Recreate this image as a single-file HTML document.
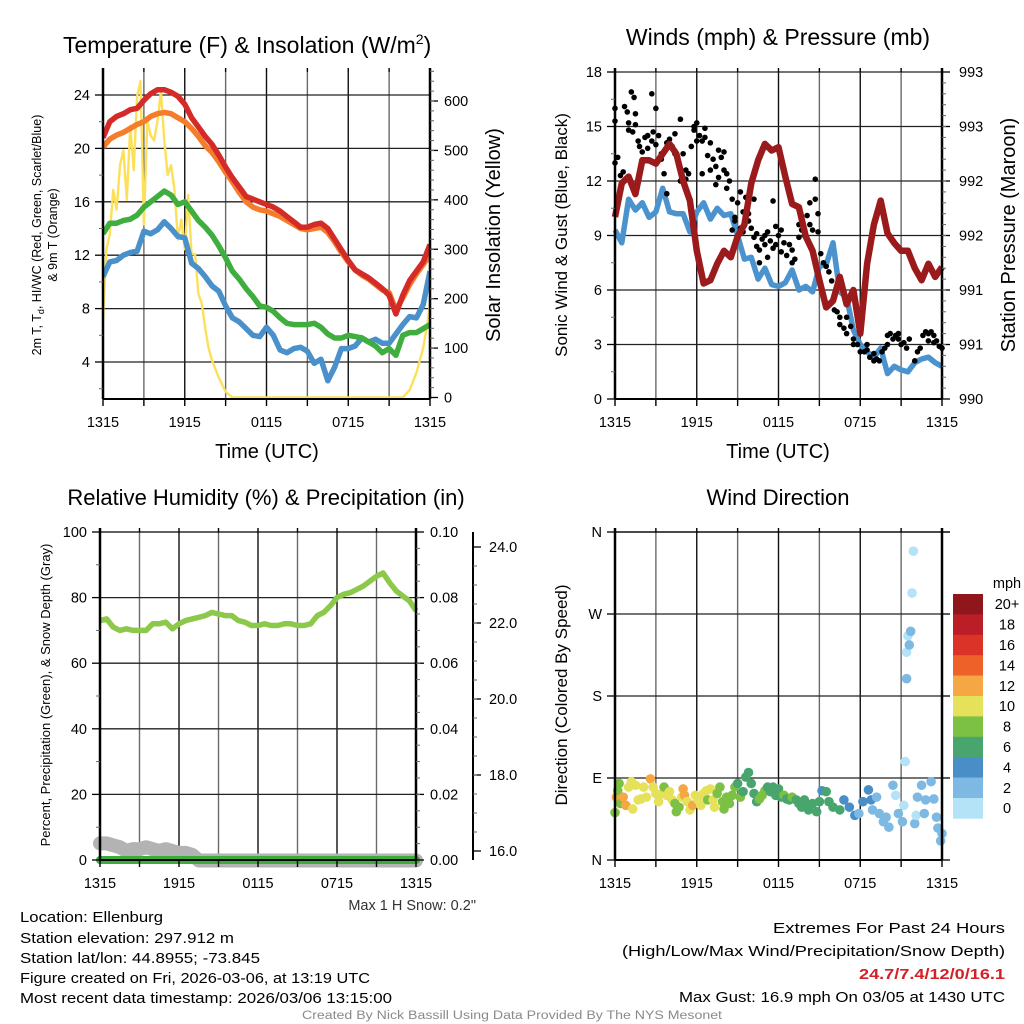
<!DOCTYPE html>
<html><head><meta charset="utf-8"><title>Ellenburg Meteogram</title>
<style>
html,body{margin:0;padding:0;background:#fff;}
svg{display:block;font-family:"Liberation Sans",Arial,sans-serif;}
</style></head>
<body>
<svg id="chart" width="1024" height="1024" viewBox="0 0 1024 1024" xmlns="http://www.w3.org/2000/svg">
<rect width="1024" height="1024" fill="#fff"/>
</svg>
<script>
// ---------- DATA ----------
const halfHours = [0,0.5,1,1.5,2,2.5,3,3.5,4,4.5,5,5.5,6,6.5,7,7.5,8,8.5,9,9.5,10,10.5,11,11.5,12,12.5,13,13.5,14,14.5,15,15.5,16,16.5,17,17.5,18,18.5,19,19.5,20,20.5,21,21.5,22,22.5,23,23.5,24];
const tempRed = [20.8,22,22.4,22.6,22.9,23.0,23.6,24.1,24.4,24.4,24.2,23.9,23.3,22.3,21.6,20.9,20.3,19.5,18.6,17.8,17.1,16.4,16.2,16.0,15.8,15.6,15.3,14.9,14.5,14.1,14.1,14.3,14.4,14.0,13.2,12.4,11.6,10.9,10.6,10.3,9.9,9.5,9.0,7.6,9.0,10.1,10.8,11.5,12.8];
const tempOrange = [20.1,20.7,21.0,21.2,21.5,21.8,22.0,22.4,22.6,22.7,22.6,22.3,22.0,21.5,20.9,20.2,19.7,19.0,18.2,17.5,16.7,16.0,15.6,15.4,15.3,15.1,14.9,14.6,14.3,14.0,13.9,14.0,14.1,13.7,13.0,12.2,11.5,10.9,10.5,10.2,9.8,9.4,9.2,7.9,8.8,9.8,10.6,11.3,12.0];
const dewGreen = [13.6,14.4,14.4,14.6,14.7,15.0,15.6,16.0,16.4,16.8,16.5,15.8,16.0,15.3,14.6,14.1,13.5,12.7,11.8,10.8,10.2,9.5,8.9,8.2,8.1,7.8,7.3,6.9,6.8,6.8,6.8,6.9,6.6,6.1,5.8,5.8,6.0,5.9,5.8,5.5,5.2,4.7,5.0,4.5,6.0,6.2,6.2,6.5,6.8];
const chillBlue = [10.4,11.5,11.6,12.0,12.2,12.3,13.8,13.6,13.9,14.5,14.0,13.4,13.3,11.4,11.0,10.4,9.7,9.3,8.2,7.3,7.0,6.5,6.0,5.9,6.6,6.0,4.9,4.7,5.0,5.1,4.8,3.9,4.2,2.6,3.6,5.0,5.0,5.2,5.8,5.5,5.7,5.4,5.4,6.1,6.8,7.4,7.3,8.3,10.8];
const solarTimes = [0,0.25,0.5,0.75,1,1.25,1.5,1.75,2,2.25,2.5,2.75,3,3.25,3.5,3.75,4,4.25,4.5,4.75,5,5.25,5.5,5.75,6,6.25,6.5,6.75,7,7.25,7.5,7.75,8,8.5,9,9.5,22,22.5,23,23.5,23.8,24];
const solarValues = [160,300,330,420,380,470,500,400,550,460,610,640,350,560,530,520,560,620,520,450,470,420,320,360,300,410,290,290,210,190,140,100,75,40,12,0,0,15,50,100,150,190];
const windBlue = [9.3,8.6,11.0,10.4,10.8,10.0,10.3,11.6,10.3,10.2,10.2,9.2,10.3,10.8,9.9,10.5,10.1,10.2,9.0,7.7,7.8,6.6,7.2,6.3,6.2,6.4,7.1,6.0,6.2,5.9,7.3,7.4,8.6,5.9,5.6,3.8,3.0,2.6,2.3,2.8,1.4,1.8,1.6,1.5,2.0,2.2,2.3,2.0,1.8];
const pressure = [991.67,991.98,992.04,991.88,992.19,992.19,992.16,992.25,992.34,992.25,992.0,991.82,991.36,991.06,991.09,991.24,991.36,991.3,991.49,991.6,991.98,992.19,992.34,992.28,992.31,992.04,991.79,991.76,991.49,991.36,991.09,990.84,990.9,991.12,990.87,991.0,990.6,991.24,991.6,991.82,991.52,991.43,991.36,991.36,991.2,991.09,991.24,991.12,991.21];
const gustTimes = [0,0,0,0.2,0.4,0.6,0.7,0.9,1.0,1.0,1.2,1.3,1.4,1.5,1.5,1.7,1.8,2.0,2.0,2.2,2.4,2.4,2.7,2.7,2.8,3.0,3.0,3.2,3.4,3.4,3.6,3.8,3.8,4.0,4.2,4.4,4.4,4.6,4.8,4.8,5.0,5.2,5.2,5.4,5.6,5.8,5.8,6.0,6.0,6.2,6.4,6.4,6.6,6.6,6.8,7.0,7.0,7.2,7.4,7.4,7.6,7.6,7.8,8.0,8.0,8.2,8.2,8.4,8.6,8.6,8.8,8.8,9.0,9.0,9.2,9.2,9.4,9.4,9.6,9.8,9.8,10.0,10.0,10.2,10.2,10.4,10.4,10.6,10.6,10.8,11.0,11.0,11.2,11.2,11.4,11.6,11.6,11.8,11.8,12.0,12.2,12.2,12.4,12.6,12.8,13.0,13.0,13.2,13.5,13.5,13.7,13.9,14.1,14.3,14.3,14.5,14.7,14.7,14.9,14.9,15.1,15.3,15.5,15.7,15.9,16.1,16.1,16.3,16.5,16.5,16.8,17.0,17.0,17.3,17.5,17.5,17.8,18.0,18.3,18.5,18.5,18.7,19.0,19.0,19.2,19.4,19.6,19.8,20.0,20.0,20.2,20.4,20.6,20.8,20.8,21.0,21.2,21.4,21.6,22.0,22.2,22.4,22.6,22.8,23.0,23.0,23.2,23.4,23.4,23.6,23.8,24.0];
const gustValues = [13.0,16.0,15.3,13.3,12.3,12.5,16.1,15.8,15.2,14.8,16.9,14.7,16.6,15.7,15.1,14.2,13.9,13.6,13.1,14.4,14.5,13.8,16.8,14.2,14.7,16.0,14.0,14.5,13.5,13.2,12.4,11.3,14.1,14.3,13.9,14.6,13.5,13.3,15.4,12.0,13.5,12.6,12.1,12.4,13.9,15.0,14.8,15.2,14.2,14.5,14.2,12.4,14.9,14.4,13.4,12.6,14.1,13.2,11.8,12.8,13.7,12.2,13.3,13.6,12.6,11.6,12.4,12.0,11.0,9.3,9.8,10.0,10.8,8.9,11.4,9.4,10.3,9.2,11.1,9.8,10.2,11.8,9.4,11.0,8.9,8.4,9.1,7.5,8.2,8.8,8.5,9.0,7.8,9.2,8.7,10.9,8.3,9.5,8.5,9.0,8.1,9.3,8.6,7.9,8.5,8.2,7.5,7.7,9.6,8.9,9.3,9.0,10.1,9.6,10.8,9.3,12.1,11.0,10.2,9.2,8.0,7.5,7.3,7.0,6.5,5.6,4.9,4.8,4.1,4.5,3.9,4.5,3.6,4.0,3.3,3.0,3.0,2.6,2.6,3.0,2.7,2.3,2.1,2.5,2.2,2.1,2.6,2.8,3.0,3.5,3.6,3.3,3.5,3.6,3.3,3.0,3.1,2.8,3.3,2.1,2.6,2.8,3.5,3.7,3.6,3.2,3.7,3.5,3.1,3.2,2.9,2.8];
const humidity = [73,73.5,71,70,70.5,70,70,70,72,72,72.5,70.5,72,73,73.5,74,74.5,75.5,75,74.5,74.5,73,72.5,71.5,71.5,72,71.5,71.5,72,72,71.5,71.5,72,74.5,75.5,77.5,80,81,81.5,82.5,83.5,85,86.5,87.5,84.5,82,80.5,79,76];
const precip = [0,0,0,0,0,0,0,0,0,0,0,0,0,0,0,0,0,0,0,0,0,0,0,0,0,0,0,0,0,0,0,0,0,0,0,0,0,0,0,0,0,0,0,0,0,0,0,0,0];
const snowDepth = [16.2,16.2,16.15,16.1,16.0,16.05,16.05,16.1,16.05,16.0,16.05,16.0,15.95,15.95,15.9,15.75,15.75,15.75,15.75,15.75,15.75,15.75,15.75,15.75,15.75,15.75,15.75,15.75,15.75,15.75,15.75,15.75,15.75,15.75,15.75,15.75,15.75,15.75,15.75,15.75,15.75,15.75,15.75,15.75,15.75,15.75,15.75,15.75,15.75];
const dirTimes = [0.0,0.1,0.2,0.3,0.4,0.6,0.8,1.0,1.2,1.3,1.5,1.7,1.9,2.1,2.3,2.6,2.8,3.0,3.2,3.5,3.6,3.8,4.0,4.2,4.4,4.5,4.7,4.9,5.0,5.1,5.3,5.5,5.7,5.9,6.1,6.3,6.5,6.7,6.8,7.0,7.2,7.3,7.5,7.7,7.9,8.0,8.2,8.4,8.6,8.8,9.0,9.2,9.4,9.6,9.8,10.0,10.2,10.4,10.6,10.8,11.0,11.2,11.4,11.6,11.8,12.0,12.2,12.4,12.6,12.8,13.0,13.3,13.5,13.7,13.9,14.1,14.2,14.5,14.8,15.0,15.2,15.5,15.7,16.0,16.5,16.8,17.2,17.6,17.9,18.2,18.6,18.8,18.9,19.2,19.4,19.7,19.9,20.1,20.4,20.6,20.8,21.1,21.2,21.3,21.4,21.4,21.5,21.6,21.7,21.8,21.9,22.0,22.1,22.2,22.5,22.7,22.8,23.2,23.4,23.6,23.7,23.9,24.0];
const dirDegrees = [52,69,76,84,62,69,60,80,86,56,82,66,67,80,69,89,80,73,64,73,80,71,75,66,62,53,58,69,78,71,64,55,60,71,66,60,73,76,66,78,66,58,73,80,64,56,69,62,71,80,84,69,75,91,96,84,73,64,67,71,76,80,75,80,71,78,69,71,67,66,69,66,62,58,66,60,55,62,53,64,76,75,64,58,55,66,58,49,51,64,77,66,55,69,51,42,47,36,82,71,51,42,60,108,199,228,246,236,251,293,339,40,49,69,82,51,66,86,67,47,35,21,29];
const dirSpeeds = [9,12.5,9,9,9,12.5,12.5,10.5,10.5,10.5,10.5,10.5,10.5,10.5,10.5,12.5,10.5,10.5,10.5,10.5,9,10.5,10.5,10.5,9,9,9,10.5,12.5,12.5,10.5,10.5,12.5,10.5,10.5,10.5,10.5,10.5,9,10.5,10.5,10.5,9,9,9,9,9,9,9,9,7,9,7,7,7,7,7,7,9,9,9,7,7,7,7,7,7,9,7,7,9,7,7,7,7,7,7,7,7,7,5,7,7,7,7,5,5,5,3,5,5,5,3,3,3,3,3,3,3,1,3,3,1,1,3,1,1,3,3,1,1,3,1,3,3,3,3,3,3,3,3,3,3];
const timeTickLabels = ["1315","1915","0115","0715","1315"];
const speedBinLabels = ["20+","18","16","14","12","10","8","6","4","2","0"];
const speedBinColors = ["#8f161b","#bb1e26","#dc3328","#ee6128","#f5a743","#e6e15a","#7cc143","#48a56d","#4a8ec7","#7db9e3","#b4e3f7"];
const dirTickLabels = ["N","E","S","W","N"];

// ---------- HELPERS ----------
const NS = "http://www.w3.org/2000/svg";
const svg = document.getElementById("chart");
function mk(tag, attrs, parent) {
  const e = document.createElementNS(NS, tag);
  for (const k in attrs) e.setAttribute(k, attrs[k]);
  (parent || svg).appendChild(e);
  return e;
}
function txt(s, attrs, parent) { const e = mk("text", attrs, parent); e.textContent = s; return e; }
function pathFrom(xs, ys, sx, sy) {
  let d = "";
  for (let i = 0; i < xs.length; i++) d += (i ? "L" : "M") + sx(xs[i]).toFixed(1) + "," + sy(ys[i]).toFixed(1);
  return d;
}
function grid(g, x0, x1, y0, y1, ny) {
  for (let i = 1; i < 8; i++) {
    const x = x0 + (x1 - x0) * i / 8;
    const l = mk("line", {x1: x, x2: x, y1: y0, y2: y1, stroke: i % 2 ? "#6a6a6a" : "#111", "stroke-width": 1.4}, g);
    
    
  }
  ny.forEach(y => {
    const l = mk("line", {x1: x0, x2: x1, y1: y, y2: y, stroke: "#222", "stroke-width": 1.3}, g);
    
    
  });
}
function frameAndXAxis(g, x0, x1, y0, y1) {
  mk("line", {x1: x0, x2: x0, y1: y0 - 4, y2: y1, stroke: "#000", "stroke-width": 2.5}, g);
  mk("line", {x1: x1, x2: x1, y1: y0 - 4, y2: y1, stroke: "#000", "stroke-width": 2.5}, g);
  mk("line", {x1: x0, x2: x1, y1: y1, y2: y1, stroke: "#000", "stroke-width": 2}, g);
  for (let i = 0; i <= 8; i++) {
    const x = x0 + (x1 - x0) * i / 8;
    mk("line", {x1: x, x2: x, y1: y1, y2: y1 + 7, stroke: "#000", "stroke-width": 1.4}, g);
    mk("line", {x1: x, x2: x, y1: y0 - 4, y2: y0, stroke: "#000", "stroke-width": 1.4}, g);
  }
  timeTickLabels.forEach((s, i) => {
    const t = txt(s, {x: x0 + (x1 - x0) * i / 4, y: y1 + 28, "font-size": 14.5, "text-anchor": "middle", fill: "#000"}, g);
    
    
  });
}
function leftTicks(g, x, vals, sy, labels, minor, fs) {
  vals.forEach((v, i) => {
    mk("line", {x1: x - 8, x2: x, y1: sy(v), y2: sy(v), stroke: "#000", "stroke-width": 1.3}, g);
    const t = txt(labels[i], {x: x - 13, y: sy(v) + 5, "font-size": fs || 14.5, "text-anchor": "end"}, g);
    
    
  });
  minor.forEach(v => mk("line", {x1: x - 4, x2: x, y1: sy(v), y2: sy(v), stroke: "#666", "stroke-width": 1}, g));
}
function rightTicks(g, x, vals, sy, labels, minor, off) {
  vals.forEach((v, i) => {
    mk("line", {x1: x, x2: x + 8, y1: sy(v), y2: sy(v), stroke: "#000", "stroke-width": 1.3}, g);
    const t = txt(labels[i], {x: x + (off || 14), y: sy(v) + 5, "font-size": 14.5, "text-anchor": "start"}, g);
    
    
  });
  minor.forEach(v => mk("line", {x1: x, x2: x + 4, y1: sy(v), y2: sy(v), stroke: "#666", "stroke-width": 1}, g));
}
function rng(a, b, s) { const r = []; for (let v = a; v <= b + 1e-9; v += s) r.push(+v.toFixed(4)); return r; }
function vlabel(s, x, y, fs, g) {
  const t = txt(s, {x: 0, y: 0, "font-size": fs, "text-anchor": "middle", transform: "translate(" + x + "," + y + ") rotate(-90)"}, g);
  return t;
}

// ---------- PANEL 1: TEMPERATURE ----------
(function () {
  const x0 = 103, x1 = 430, y0 = 72, y1 = 399;
  const g = mk("g", {});  
  const sx = t => x0 + (x1 - x0) * t / 24;
  const sy = v => 95 + (24 - v) * 13.35;
  const sr = v => 397.5 - v * 296.5 / 600;
  grid(g, x0, x1, y0, y1, [4, 8, 12, 16, 20, 24].map(sy));
  const clip = mk("clipPath", {id: "c1"}, g); mk("rect", {x: x0, y: y0 - 2, width: x1 - x0, height: y1 - y0 + 2}, clip);
  const pg = mk("g", {"clip-path": "url(#c1)"}, g);
  let p = mk("path", {d: pathFrom(solarTimes, solarValues, sx, sr), fill: "none", stroke: "#fde05a", "stroke-width": 2.4, "stroke-linejoin": "round"}, pg);
   
  p = mk("path", {d: pathFrom(halfHours, chillBlue, sx, sy), fill: "none", stroke: "#4a90ca", "stroke-width": 5.5, "stroke-linejoin": "round"}, pg);
   
  p = mk("path", {d: pathFrom(halfHours, dewGreen, sx, sy), fill: "none", stroke: "#3fae3f", "stroke-width": 5.5, "stroke-linejoin": "round"}, pg);
   
  p = mk("path", {d: pathFrom(halfHours, tempOrange, sx, sy), fill: "none", stroke: "#f47c2a", "stroke-width": 5.5, "stroke-linejoin": "round"}, pg);
   
  p = mk("path", {d: pathFrom(halfHours, tempRed, sx, sy), fill: "none", stroke: "#d42a28", "stroke-width": 5.5, "stroke-linejoin": "round"}, pg);
   
  frameAndXAxis(g, x0, x1, y0, y1);
  leftTicks(g, x0, [4, 8, 12, 16, 20, 24], sy, ["4", "8", "12", "16", "20", "24"], [2, 6, 10, 14, 18, 22]);
  rightTicks(g, x1, [0, 100, 200, 300, 400, 500, 600], sr, ["0", "100", "200", "300", "400", "500", "600"], rng(20, 660, 20));
  let t = txt("Temperature (F) & Insolation (W/m", {x: 63, y: 53, "font-size": 23}, g);
  const sup = mk("tspan", {dy: -9, "font-size": 14}, t); sup.textContent = "2";
  const cl = mk("tspan", {dy: 9, "font-size": 23}, t); cl.textContent = ")";
   
  t = vlabel("", 41, 235, 12.5, g);
  t.textContent = "2m T, T";
  const sub = mk("tspan", {dy: 3, "font-size": 9}, t); sub.textContent = "d";
  const rest = mk("tspan", {dy: -3}, t); rest.textContent = ", HI/WC (Red, Green, Scarlet/Blue)";
   
  t = vlabel("& 9m T (Orange)", 57, 235, 12.5, g);
   
  t = vlabel("Solar Insolation (Yellow)", 500, 235, 20, g);
   
  t = txt("Time (UTC)", {x: 267, y: 458, "font-size": 20, "text-anchor": "middle"}, g);
   
})();

// ---------- PANEL 2: WINDS ----------
(function () {
  const x0 = 615, x1 = 942, y0 = 72, y1 = 399;
  const g = mk("g", {});  
  const sx = t => x0 + (x1 - x0) * t / 24;
  const sy = v => y1 - v * (y1 - y0) / 18;
  const sp = v => y1 - (v - 990) * (y1 - y0) / 3;
  grid(g, x0, x1, y0, y1, [3, 6, 9, 12, 15, 18].map(sy));
  let p = mk("path", {d: pathFrom(halfHours, windBlue, sx, sy), fill: "none", stroke: "#4b93cf", "stroke-width": 5.5, "stroke-linejoin": "round"}, g);
   
  gustTimes.forEach((t, i) => {
    const c = mk("circle", {cx: sx(t), cy: sy(gustValues[i]), r: 2.8, fill: "#000"}, g);
    
    
  });
  p = mk("path", {d: pathFrom(halfHours, pressure, sx, sp), fill: "none", stroke: "#9b1a1c", "stroke-width": 6.5, "stroke-linejoin": "round"}, g);
   
  frameAndXAxis(g, x0, x1, y0, y1);
  leftTicks(g, x0, [0, 3, 6, 9, 12, 15, 18], sy, ["0", "3", "6", "9", "12", "15", "18"], rng(1.5, 16.5, 3));
  rightTicks(g, x1, [990, 990.5, 991, 991.5, 992, 992.5, 993], sp, ["990", "991", "991", "992", "992", "993", "993"], rng(990.1, 992.9, 0.1), 17);
  let t = txt("Winds (mph) & Pressure (mb)", {x: 778, y: 45, "font-size": 23, "text-anchor": "middle"}, g);
   
  t = vlabel("Sonic Wind & Gust (Blue, Black)", 567, 235, 17, g);
   
  t = vlabel("Station Pressure (Maroon)", 1015, 235, 20, g);
   
  t = txt("Time (UTC)", {x: 778, y: 458, "font-size": 20, "text-anchor": "middle"}, g);
   
})();

// ---------- PANEL 3: HUMIDITY ----------
(function () {
  const x0 = 100, x1 = 416, y0 = 532, y1 = 860;
  const g = mk("g", {});  
  const sx = t => x0 + (x1 - x0) * t / 24;
  const sy = v => y1 - v * (y1 - y0) / 100;
  const spr = v => y1 - v * (y1 - y0) / 0.1;
  const ss = v => 851 - (v - 16) * 38;
  grid(g, x0, x1, y0, y1, [20, 40, 60, 80].map(sy));
  let p = mk("path", {d: pathFrom(halfHours, snowDepth, sx, ss), fill: "none", stroke: "#b3b3b3", "stroke-width": 14, "stroke-linejoin": "round", "stroke-linecap": "round"}, g);
   
  p = mk("path", {d: pathFrom(halfHours, precip, sx, spr), fill: "none", stroke: "#3cad3c", "stroke-width": 8, "stroke-linecap": "round"}, g);
   
  p = mk("path", {d: pathFrom(halfHours, humidity, sx, sy), fill: "none", stroke: "#8cc94b", "stroke-width": 5.5, "stroke-linejoin": "round"}, g);
   
  frameAndXAxis(g, x0, x1, y0, y1);
  mk("line", {x1: x0, x2: x1, y1: y0, y2: y0, stroke: "#000", "stroke-width": 1.3}, g);
  leftTicks(g, x0, [0, 20, 40, 60, 80, 100], sy, ["0", "20", "40", "60", "80", "100"], [10, 30, 50, 70, 90]);
  rightTicks(g, x1, [0, 0.02, 0.04, 0.06, 0.08, 0.1], spr, ["0.00", "0.02", "0.04", "0.06", "0.08", "0.10"], rng(0.005, 0.095, 0.005));
  mk("line", {x1: 473, x2: 473, y1: 532, y2: 860, stroke: "#000", "stroke-width": 2}, g);
  rightTicks(g, 473, [16, 18, 20, 22, 24], ss, ["16.0", "18.0", "20.0", "22.0", "24.0"], rng(16.5, 23.5, 0.5), 16);
  let t = txt("Relative Humidity (%) & Precipitation (in)", {x: 266, y: 505, "font-size": 22, "text-anchor": "middle"}, g);
   
  t = vlabel("Percent, Precipitation (Green), & Snow Depth (Gray)", 50, 695, 13, g);
   
  t = txt("Max 1 H Snow: 0.2\"", {x: 476, y: 910, "font-size": 14.5, "text-anchor": "end", fill: "#333"}, g);
   
})();

// ---------- PANEL 4: WIND DIRECTION ----------
(function () {
  const x0 = 615, x1 = 942, y0 = 532, y1 = 860;
  const g = mk("g", {});  
  const sx = t => x0 + (x1 - x0) * t / 24;
  const sy = d => y1 - d * (y1 - y0) / 360;
  grid(g, x0, x1, y0, y1, [90, 180, 270, 360].map(sy));
  function colorFor(s) {
    const idx = Math.min(10, Math.floor(s / 2));
    return speedBinColors[10 - idx];
  }
  dirTimes.forEach((t, i) => {
    const c = mk("circle", {cx: sx(t), cy: sy(dirDegrees[i]), r: 4.8, fill: colorFor(dirSpeeds[i])}, g);
    
    
  });
  frameAndXAxis(g, x0, x1, y0, y1);
  mk("line", {x1: x0, x2: x1 + 8, y1: y0, y2: y0, stroke: "#000", "stroke-width": 1.3}, g);
  leftTicks(g, x0, [0, 90, 180, 270, 360], sy, dirTickLabels, []);
  [0, 90, 180, 270, 360].forEach(d => mk("line", {x1: x1, x2: x1 + 8, y1: sy(d), y2: sy(d), stroke: "#000", "stroke-width": 1.3}, g));
  const bh = 20.4;
  speedBinColors.forEach((c, i) => {
    const r = mk("rect", {x: 953, y: 594 + i * bh, width: 30, height: bh + 0.3, fill: c}, g);
    
    
    const t = txt(speedBinLabels[i], {x: 1007, y: 594 + i * bh + bh / 2 + 5, "font-size": 14.5, "text-anchor": "middle"}, g);
    
    
  });
  let t = txt("mph", {x: 1007, y: 588, "font-size": 14.5, "text-anchor": "middle"}, g);
   
  t = txt("Wind Direction", {x: 778, y: 505, "font-size": 22, "text-anchor": "middle"}, g);
   
  t = vlabel("Direction (Colored By Speed)", 567, 695, 17, g);
   
})();

// ---------- FOOTER ----------
(function () {
  const g = mk("g", {});  
  const left = [["Location: Ellenburg", 922, 143], ["Station elevation: 297.912 m", 943, 214], ["Station lat/lon: 44.8955; -73.845", 963, 240], ["Figure created on Fri, 2026-03-06, at 13:19 UTC", 983, 350], ["Most recent data timestamp: 2026/03/06 13:15:00", 1003, 372]];
  left.forEach(([s, y, w]) => {
    const t = txt(s, {x: 20, y: y, "font-size": 14.5, textLength: w, lengthAdjust: "spacingAndGlyphs"}, g);
    
    
  });
  const right = [["Extremes For Past 24 Hours", 933, "#000", "normal", 232], ["(High/Low/Max Wind/Precipitation/Snow Depth)", 956, "#000", "normal", 383], ["24.7/7.4/12/0/16.1", 979, "#d42027", "bold", 146], ["Max Gust: 16.9 mph On 03/05 at 1430 UTC", 1002, "#000", "normal", 326]];
  right.forEach(([s, y, c, fw, w]) => {
    const t = txt(s, {x: 1005, y: y, "font-size": 14.5, "text-anchor": "end", fill: c, "font-weight": fw, textLength: w, lengthAdjust: "spacingAndGlyphs"}, g);
    
    
  });
  const t = txt("Created By Nick Bassill Using Data Provided By The NYS Mesonet", {x: 512, y: 1019, "font-size": 11.5, "text-anchor": "middle", fill: "#8a8a8a", textLength: 420, lengthAdjust: "spacingAndGlyphs"}, g);
  
  
})();
</script>
</body></html>
